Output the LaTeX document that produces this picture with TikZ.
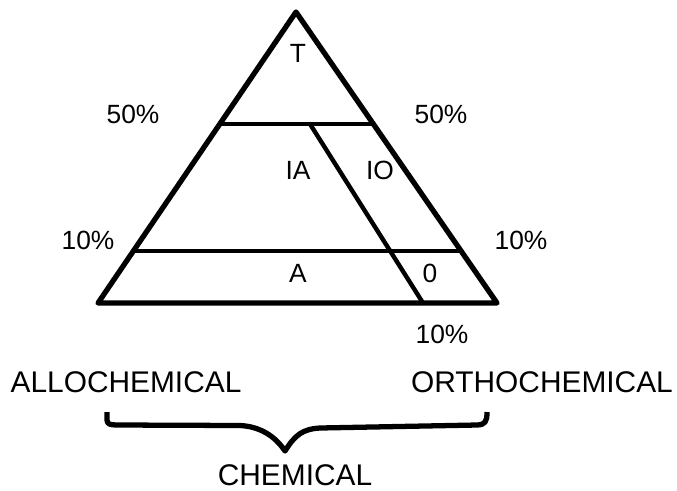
\documentclass[tikz,border=0pt]{standalone}
\usepackage{fontspec}
\setmainfont{Liberation Sans}
\usetikzlibrary{calc}

\begin{document}
\begin{tikzpicture}
% définition des styles
\tikzstyle{cadre}=[line width=3pt, line join=round, line cap=round, color=black]
\tikzstyle{trait}=[line width=2.5pt, line cap=round, color=black]
\tikzstyle{taux}=[font=\fontsize{15}{17}\selectfont, inner sep=1pt]
\tikzstyle{zone}=[font=\fontsize{15}{17}\selectfont, inner sep=1pt]
\tikzstyle{pole}=[font=\fontsize{17}{19}\selectfont, inner sep=1pt]
\tikzstyle{accolade}=[line width=3pt, line join=round, color=black]

\useasboundingbox (0,0) rectangle (13.54,9.8);

% le triangle
\coordinate (S) at (5.92,9.56);
\coordinate (BG) at (1.96,3.74);
\coordinate (BD) at (9.94,3.74);
\coordinate (MG) at ($(S)!0.385!(BG)$);
\coordinate (MD) at ($(S)!0.385!(BD)$);
\coordinate (DG) at ($(S)!0.821!(BG)$);
\coordinate (DD) at ($(S)!0.821!(BD)$);
\coordinate (OH) at (6.20,7.32);
\coordinate (OB) at (8.46,3.74);

\draw[cadre] (S)--(BG)--(BD)--cycle;
\draw[trait] (MG)--(MD);
\draw[trait] (DG)--(DD);
\draw[trait] (OH)--(OB);

% les étiquettes
\node[zone] (T) at (5.96,8.74) {T};
\node[zone] (IA) at (5.96,6.40) {IA};
\node[zone] (IO) at (7.60,6.40) {IO};
\node[zone] (A) at (5.96,4.34) {A};
\node[zone] (O) at (8.60,4.34) {0};
\node[taux] (CG) at (2.66,7.52) {50\%};
\node[taux] (CD) at (8.82,7.52) {50\%};
\node[taux] (XG) at (1.76,5.00) {10\%};
\node[taux] (XD) at (10.42,5.00) {10\%};
\node[taux] (XB) at (8.84,3.12) {10\%};
\node[pole] (ALLO) at (2.52,2.16) {ALLOCHEMICAL};
\node[pole] (ORTHO) at (10.84,2.16) {ORTHOCHEMICAL};
\node[pole] (CHIM) at (5.90,0.30) {CHEMICAL};

% l'accolade
\coordinate (AG) at (2.14,1.56);
\coordinate (AD) at (9.74,1.56);
\coordinate (AP) at (5.70,0.78);
\draw[accolade] (AG) -- (2.14,1.40) .. controls (2.14,1.32) and (2.2,1.30) .. (2.34,1.30)
  -- (4.80,1.29) .. controls (5.20,1.27) and (5.50,1.08) .. (AP)
  .. controls (5.90,1.10) and (6.05,1.22) .. (6.40,1.24)
  -- (9.55,1.30) .. controls (9.70,1.31) and (9.74,1.36) .. (AD);
\end{tikzpicture}
\end{document}
